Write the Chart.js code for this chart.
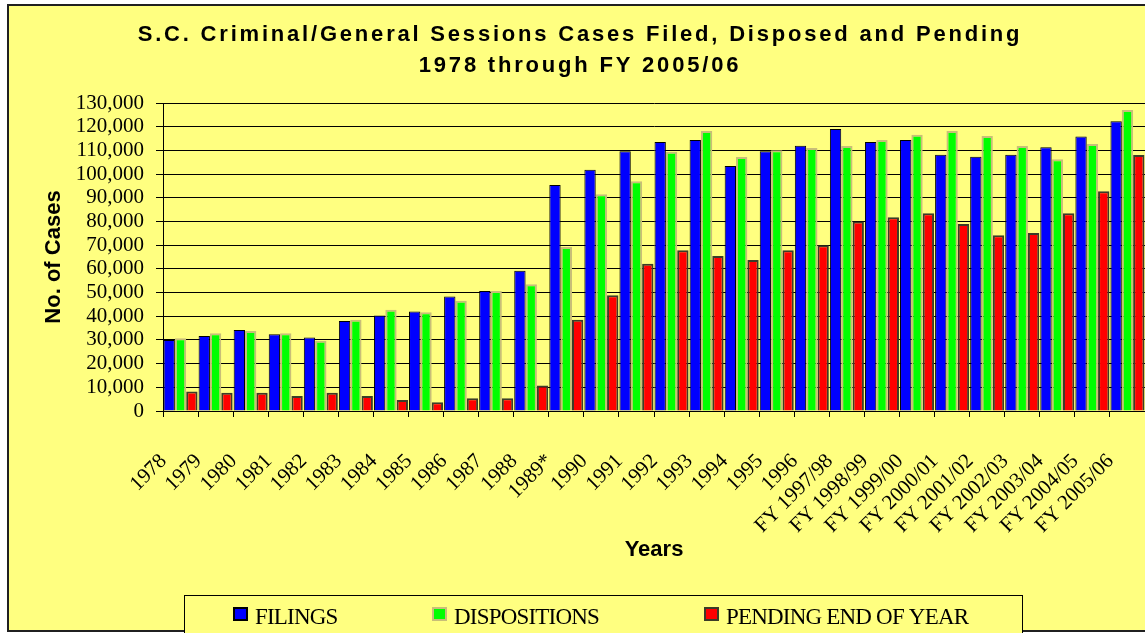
<!DOCTYPE html>
<html>
<head>
<meta charset="utf-8">
<script src="https://cdn.jsdelivr.net/npm/chart.js@4/dist/chart.umd.min.js"></script>
<style>
  html, body { margin: 0; padding: 0; background: #ffffff; }
  #area { width: 1145px; height: 633px; }
</style>
</head>
<body>
<div id="area"><canvas id="grafico" width="1145" height="633"></canvas></div>
<script>
// Dados
const anos = ['1978', '1979', '1980', '1981', '1982', '1983', '1984', '1985', '1986', '1987',
    '1988', '1989*', '1990', '1991', '1992', '1993', '1994', '1995', '1996',
    'FY 1997/98', 'FY 1998/99', 'FY 1999/00', 'FY 2000/01', 'FY 2001/02',
    'FY 2002/03', 'FY 2003/04', 'FY 2004/05', 'FY 2005/06'];

const filings = [30000, 31700, 34200, 32400, 31000, 38000, 40300, 42000, 48300, 50600,
    59200, 95400, 101800, 109600, 113500, 114400, 103400, 109600, 112000,
    119000, 113500, 114400, 108200, 107300, 108200, 111300, 115900, 122300];

const dispositions = [30700, 32800, 33800, 32800, 29600, 38500, 42700, 41700, 46500, 50600,
    53500, 69200, 91500, 97000, 109400, 118200, 107200, 110100, 111000,
    111800, 114400, 116600, 118200, 116100, 111800, 106300, 112700, 127000];

const pending = [8200, 7700, 7700, 6300, 7700, 6300, 4600, 3700, 5400, 5400,
    10800, 38500, 48900, 62100, 67900, 65400, 63700, 67900, 70000,
    80000, 81800, 83500, 78900, 74200, 75100, 83500, 92800, 108000];

const nomesSeries = ['FILINGS', 'DISPOSITIONS', 'PENDING END OF YEAR'];
const titulo = ['S.C. Criminal/General Sessions Cases Filed, Disposed and Pending', '1978 through FY 2005/06'];

const corFundo = '#FFFF80';

// Fundo amarelo com moldura, título e legenda desenhados à mão
const moldura = {
    id: 'moldura',
    beforeDraw(chart) {
        const ctx = chart.ctx;
        ctx.save();
        ctx.fillStyle = corFundo;
        ctx.fillRect(7, 4, chart.width - 7, 628);
        ctx.strokeStyle = '#202020';
        ctx.lineWidth = 2;
        ctx.strokeRect(8, 5, chart.width + 10, 626);
        ctx.restore();
    },
    afterDraw(chart) {
        const ctx = chart.ctx;
        ctx.save();
        // título
        ctx.fillStyle = '#000';
        ctx.font = "bold 22px 'Liberation Sans', Arial, sans-serif";
        ctx.letterSpacing = '2.8px';
        ctx.textAlign = 'center';
        ctx.textBaseline = 'alphabetic';
        ctx.fillText(titulo[0], 580, 41);
        ctx.fillText(titulo[1], 580, 72);
        ctx.letterSpacing = '0px';

        // legenda
        ctx.strokeStyle = '#000';
        ctx.lineWidth = 1;
        ctx.fillStyle = corFundo;
        ctx.fillRect(184.5, 595.5, 838, 50);
        ctx.strokeRect(184.5, 595.5, 838, 50);
        const posX = [233, 432, 704];
        ctx.font = "23px 'Liberation Serif', 'Times New Roman', serif";
        ctx.letterSpacing = '-0.8px';
        ctx.textAlign = 'left';
        chart.data.datasets.forEach((ds, i) => {
            ctx.fillStyle = ds.borderColor;
            ctx.fillRect(posX[i], 607, 15, 14);
            ctx.fillStyle = ds.backgroundColor;
            ctx.fillRect(posX[i] + 2, 609, 11, 10);
            ctx.fillStyle = '#000';
            ctx.fillText(ds.label, posX[i] + 22, 624);
        });
        ctx.restore();
    }
};

new Chart(document.getElementById('grafico'), {
    type: 'bar',
    data: {
        labels: anos,
        datasets: [{
            label: nomesSeries[0],
            data: filings,
            backgroundColor: '#0000FF',
            borderColor: '#000000',
            borderWidth: 1
        }, {
            label: nomesSeries[1],
            data: dispositions,
            backgroundColor: '#00FF00',
            borderColor: '#C8BE78',
            borderWidth: 2
        }, {
            label: nomesSeries[2],
            data: pending,
            backgroundColor: '#FF0000',
            borderColor: '#3C3C28',
            borderWidth: 2
        }]
    },
    options: {
        responsive: false,
        animation: false,
        categoryPercentage: 0.97,
        barPercentage: 1.0,
        layout: { padding: { left: 8, top: 103, right: 0, bottom: 70 } },
        plugins: {
            legend: { display: false },
            title: { display: false },
            tooltip: { enabled: false }
        },
        scales: {
            x: {
                grid: { drawOnChartArea: false, drawTicks: true, tickLength: 6, color: '#000' },
                border: { display: true, color: '#000', width: 1 },
                ticks: {
                    autoSkip: false,
                    minRotation: 45,
                    maxRotation: 45,
                    color: '#000',
                    padding: 32,
                    labelOffset: -17,
                    z: 1,
                    font: { family: "'Liberation Serif', 'Times New Roman', serif", size: 21 }
                },
                title: {
                    display: true,
                    text: 'Years',
                    color: '#000',
                    padding: 0,
                    font: { family: "'Liberation Sans', Arial, sans-serif", size: 22, weight: 'bold' }
                },
                afterFit(scale) {
                    scale.height = 152;
                    scale.paddingLeft = 0;
                    scale.paddingRight = 0;
                }
            },
            y: {
                min: 0,
                max: 130000,
                grid: { color: '#000', lineWidth: 1, tickLength: 7 },
                border: { color: '#000' },
                ticks: {
                    stepSize: 10000,
                    autoSkip: false,
                    color: '#000',
                    padding: 12,
                    z: 1,
                    font: { family: "'Liberation Serif', 'Times New Roman', serif", size: 21 },
                    callback: function(valor) {
                        return valor.toLocaleString('en-US');
                    }
                },
                title: {
                    display: true,
                    text: 'No. of Cases',
                    color: '#000',
                    padding: { top: 33, bottom: 0 },
                    font: { family: "'Liberation Sans', Arial, sans-serif", size: 22, weight: 'bold' }
                },
                afterFit(scale) {
                    scale.width = 155;
                    scale.paddingTop = 0;
                    scale.paddingBottom = 0;
                }
            }
        }
    },
    plugins: [moldura]
});
</script>
</body>
</html>
